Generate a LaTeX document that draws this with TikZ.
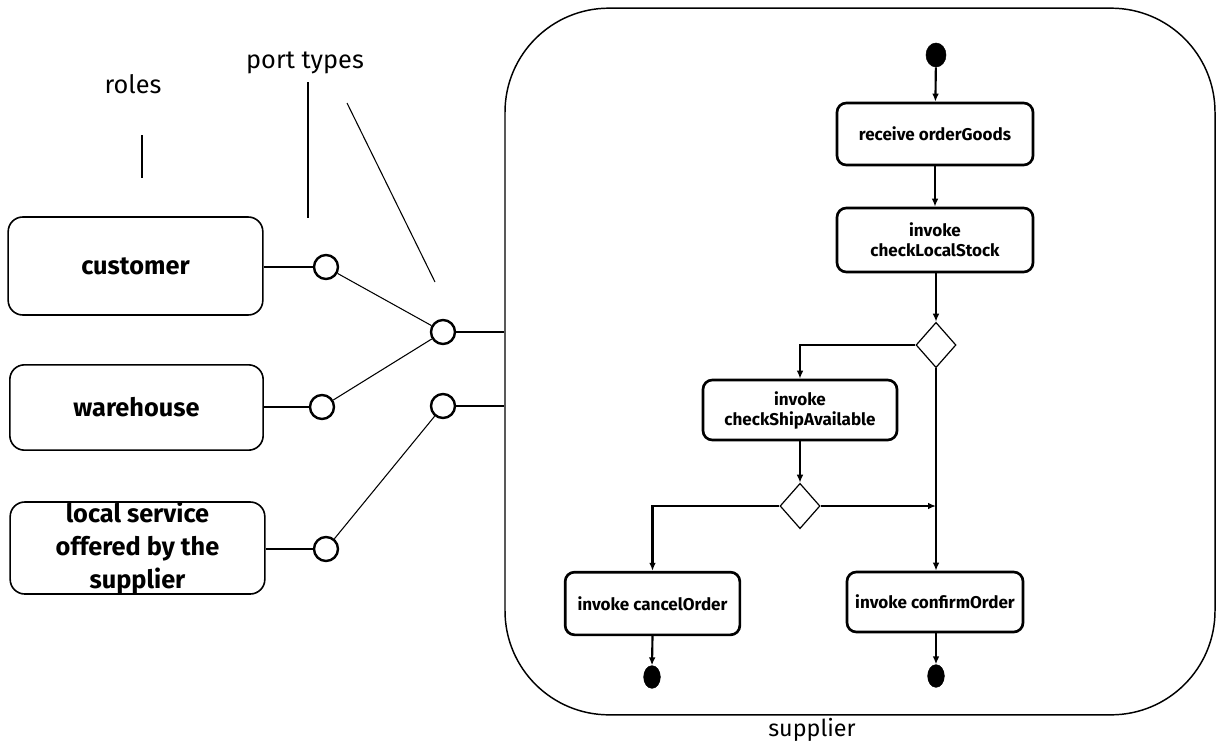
\documentclass[tikz,border=0pt]{standalone}
\usepackage{fontspec}
\setmainfont{Fira Sans}
\usetikzlibrary{shapes.geometric,arrows.meta}

\begin{document}
\begin{tikzpicture}[x=0.75pt,y=-0.75pt,
  role/.style={draw, rounded corners=11pt, line width=1.2pt, align=center, inner sep=0pt,
    font=\bfseries\fontsize{19}{24.5}\selectfont},
  act/.style={draw, rounded corners=7pt, line width=2pt, align=center, inner sep=0pt,
    font=\bfseries\fontsize{12.8}{15}\selectfont},
  port/.style={draw, circle, line width=1.8pt, minimum size=18pt, inner sep=0pt, fill=white},
  dec/.style={draw, diamond, line width=0.9pt, minimum width=30pt, minimum height=34pt, inner sep=0pt, fill=white},
  dot/.style={draw, ellipse, fill=black, inner sep=0pt},
  flow/.style={line width=1.6pt, -{Latex[length=6pt,width=5pt]}},
  wire/.style={line width=1.6pt},
  thinwire/.style={line width=0.8pt},
  label/.style={font=\fontsize{19}{21}\selectfont}
]
\useasboundingbox (0,0) rectangle (1223,749);

% annotation labels
\node[label] (roles) at (133,84) {roles};
\node[label] (ptypes) at (305,63) {port types};
\coordinate (r1) at (142,135); \coordinate (r2) at (142,178);
\coordinate (t1) at (308,82);  \coordinate (t2) at (308,218);
\coordinate (t3) at (347,103); \coordinate (t4) at (435,282);
\draw[thinwire] (r1) -- (r2);
\draw[thinwire] (t1) -- (t2);
\draw[thinwire] (t3) -- (t4);

% roles
\node[role, minimum width=191pt, minimum height=73.5pt] (customer) at (135.5,266) {customer};
\node[role, minimum width=190pt, minimum height=64pt] (warehouse) at (136.5,407.5) {warehouse};
\node[role, minimum width=191pt, minimum height=69pt] (local) at (137.5,548)
  {local service\\offered by the\\supplier};

% supplier process container
\node[draw, rounded corners=78pt, line width=1.1pt, minimum width=532.5pt, minimum height=530pt,
  inner sep=0pt] (supplier) at (860,361.5) {};
\node[label, font=\fontsize{17.5}{19}\selectfont] (suplabel) at (812,730) {supplier};

% ports
\node[port] (p1) at (326,267) {};
\node[port] (p2) at (443,332) {};
\node[port] (p3) at (322,407) {};
\node[port] (p4) at (443,406) {};
\node[port] (p5) at (326,549) {};

\draw[wire] (p1 -| customer.east) -- (p1);
\draw[wire] (p3 -| warehouse.east) -- (p3);
\draw[wire] (p5 -| local.east) -- (p5);
\draw[thinwire] (p1) -- (p2);
\draw[thinwire] (p3) -- (p2);
\draw[thinwire] (p5) -- (p4);
\draw[wire] (p2) -- (p2 -| supplier.west);
\draw[wire] (p4) -- (p4 -| supplier.west);

% activity flow
\node[dot, minimum width=15pt, minimum height=18pt] (start) at (936,55) {};
\node[act, minimum width=147pt, minimum height=46.5pt] (receive) at (935,134) {receive orderGoods};
\node[act, minimum width=147pt, minimum height=48pt] (checklocal) at (935,240) {invoke\\checkLocalStock};
\node[dec] (d1) at (936,345) {};
\node[act, minimum width=145.5pt, minimum height=45pt] (checkship) at (800,410) {invoke\\checkShipAvailable};
\node[dec] (d2) at (800,506) {};
\node[act, minimum width=131pt, minimum height=47pt] (cancel) at (652.5,603.5) {invoke cancelOrder};
\node[act, minimum width=132pt, minimum height=45pt] (confirm) at (935,602) {invoke confirmOrder};
\node[dot, minimum width=12.5pt, minimum height=17pt] (end1) at (652,677) {};
\node[dot, minimum width=12.5pt, minimum height=17pt] (end2) at (936,676) {};

\draw[flow] (start) -- (receive);
\draw[flow] (receive) -- (checklocal);
\draw[flow] (checklocal.south -| d1) -- (d1.north);
\draw[flow] (d1.west) -| (checkship.north);
\draw[flow] (d1.south) -- (d1.south |- confirm.north);
\draw[flow] (checkship.south) -- (d2.north);
\draw[flow] (d2.west) -| (cancel.north);
\draw[flow] (d2.east) -- (d2.east -| d1.south);
\draw[flow] (cancel.south) -- (end1.north);
\draw[flow] (confirm.south -| end2) -- (end2.north);
\end{tikzpicture}
\end{document}
